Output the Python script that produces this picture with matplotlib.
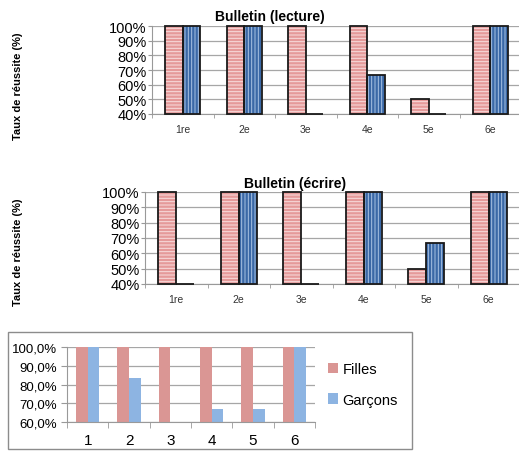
import numpy as np
import matplotlib.pyplot as plt
from matplotlib.ticker import FuncFormatter

# donnees
classes = ['1re', '2e', '3e', '4e', '5e', '6e']
lecture_filles = [100, 100, 100, 100, 50, 100]
lecture_garcons = [100, 100, 0, 66.7, 0, 100]
ecrire_filles = [100, 100, 100, 100, 50, 100]
ecrire_garcons = [0, 100, 0, 100, 66.7, 100]
niveaux = ['1', '2', '3', '4', '5', '6']
total_filles = [100, 100, 100, 100, 100, 100]
total_garcons = [100, 83.3, 0, 66.7, 66.7, 100]

W, H = 519, 456
plt.rcParams['font.family'] = ['Liberation Sans', 'DejaVu Sans']
plt.rcParams['hatch.linewidth'] = 0.7

fig = plt.figure(figsize=(W / 100, H / 100), dpi=100)


def box(x0, y0, x1, y1):
    # pixels -> fraction de figure
    return [x0 / W, 1 - y1 / H, (x1 - x0) / W, (y1 - y0) / H]


def hatched_chart(rect, title, title_xy, filles, garcons, ylabel_y):
    ax = fig.add_axes(rect)
    x = np.arange(len(classes))
    bw = 0.285
    ymin = 40
    hf = [max(v - ymin, 0) for v in filles]
    hg = [max(v - ymin, 0) for v in garcons]
    ax.bar(x - bw / 2, hf, bw, bottom=ymin, color='#E59A9A', hatch='-----',
           edgecolor='#F8DEDE', linewidth=0, zorder=2)
    ax.bar(x + bw / 2, hg, bw, bottom=ymin, color='#3A68A6', hatch='|||||',
           edgecolor='#A9C3E4', linewidth=0, zorder=2)
    ax.bar(x - bw / 2, hf, bw, bottom=ymin, fill=False, edgecolor='#1a1a1a',
           linewidth=1.3, zorder=3, clip_on=False)
    ax.bar(x + bw / 2, hg, bw, bottom=ymin, fill=False, edgecolor='#1a1a1a',
           linewidth=1.3, zorder=3, clip_on=False)
    ax.set_xlim(-0.5, len(classes) - 0.5)
    ax.set_ylim(ymin, 100)
    ax.set_yticks(range(40, 101, 10))
    ax.yaxis.set_major_formatter(FuncFormatter(lambda v, p: '%d%%' % v))
    ax.grid(axis='y', color='#A6A6A6', linewidth=0.9, zorder=0)
    ax.set_xticks(x)
    ax.set_xticklabels(classes)
    ax.set_xticks(np.arange(-0.5, len(classes)), minor=True)
    ax.tick_params(axis='x', which='major', length=0, labelsize=7.5,
                   labelcolor='#333333', pad=7)
    ax.tick_params(axis='x', which='minor', length=3, color='#999999')
    ax.tick_params(axis='y', length=3, color='#999999', labelsize=10.5, pad=1)
    for s in ['top', 'right']:
        ax.spines[s].set_visible(False)
    for s in ['left', 'bottom']:
        ax.spines[s].set_color('#999999')
    fig.text(title_xy[0] / W, 1 - title_xy[1] / H, title, fontsize=10,
             fontweight='bold', ha='center', va='center')
    fig.text(18 / W, 1 - ylabel_y / H, 'Taux de réussite (%)', rotation=90,
             fontsize=8, fontweight='bold', ha='center', va='center')
    return ax


hatched_chart(box(152, 27, 521, 115), 'Bulletin (lecture)', (270, 17),
              lecture_filles, lecture_garcons, 86)
hatched_chart(box(145, 193, 520, 285), 'Bulletin (écrire)', (295, 184),
              ecrire_filles, ecrire_garcons, 252)

# cadre du troisieme graphique
frame = plt.Rectangle((8 / W, 1 - 450 / H), 404 / W, 117 / H, transform=fig.transFigure,
                      fill=False, edgecolor='#8C8C8C', linewidth=1.0)
fig.patches.append(frame)

ax3 = fig.add_axes(box(67, 348, 315, 423))
x = np.arange(len(niveaux))
bw = 0.28
ax3.bar(x - bw / 2, total_filles, bw, color='#DA9694', label='Filles', zorder=2)
ax3.bar(x + bw / 2, total_garcons, bw, color='#8DB4E2', label='Garçons', zorder=2)
ax3.set_xlim(-0.5, len(niveaux) - 0.5)
ax3.set_ylim(60, 100)
ax3.set_yticks(range(60, 101, 10))
ax3.yaxis.set_major_formatter(FuncFormatter(lambda v, p: ('%.1f%%' % v).replace('.', ',')))
ax3.grid(axis='y', color='#A6A6A6', linewidth=0.9, zorder=0)
ax3.set_xticks(x)
ax3.set_xticklabels(niveaux)
ax3.set_xticks(np.arange(-0.5, len(niveaux)), minor=True)
ax3.tick_params(axis='x', which='major', length=0, labelsize=11, pad=8)
ax3.tick_params(axis='x', which='minor', length=4, color='#999999')
ax3.tick_params(axis='y', length=4, color='#999999', labelsize=9.5, pad=3)
for s in ['top', 'right']:
    ax3.spines[s].set_visible(False)
for s in ['left', 'bottom']:
    ax3.spines[s].set_color('#999999')
ax3.legend(loc='center left', bbox_to_anchor=(1.0, 0.5), frameon=False,
           fontsize=10.5, handlelength=0.7, handleheight=0.7, handletextpad=0.3,
           labelspacing=1.1)

fig.savefig('out.png', dpi=100)
